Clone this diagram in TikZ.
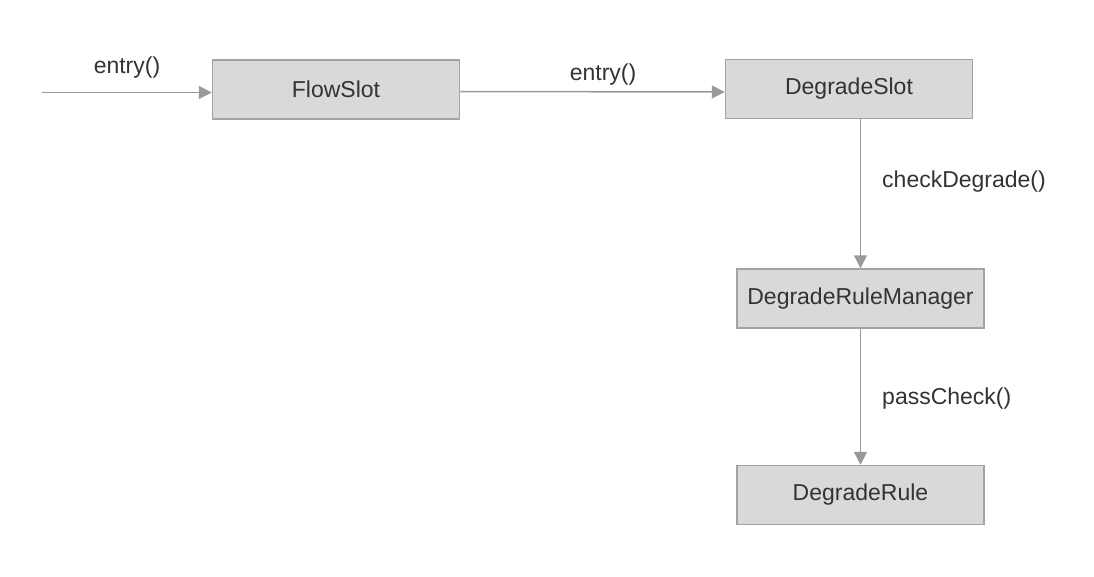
\documentclass[tikz,border=0pt]{standalone}
\usepackage{fontspec}
\setmainfont{Liberation Sans}
\usepackage{xcolor}
\usetikzlibrary{arrows.meta, positioning}
\definecolor{boxfill}{HTML}{D9D9D9}
\definecolor{boxline}{HTML}{A3A3A3}
\definecolor{wire}{HTML}{999999}
\definecolor{ink}{HTML}{333333}

\begin{document}
\begin{tikzpicture}[
  x=1pt, y=-1pt,
  slot/.style={draw=boxline, line width=1.5pt, fill=boxfill, minimum width=247pt, minimum height=59pt, inner sep=0pt, font=\fontsize{23}{27}\selectfont, text=ink},
  call/.style={font=\fontsize{23}{27}\selectfont, text=ink, inner sep=0pt},
  wire/.style={draw=wire, line width=1.5pt, -{Triangle[length=13pt, width=13pt]}}
]
\useasboundingbox (0,0) rectangle (1094,576);

\node[slot] (flow) at (336,89.5) {FlowSlot};
\node[slot] (deg) at (849,89) {DegradeSlot};
\node[slot] (mgr) at (860.5,298.5) {DegradeRuleManager};
\node[slot] (rule) at (860.5,495) {DegradeRule};
\coordinate (in) at (42,92.5);

\draw[wire] (in) -- (in -| flow.west);
\draw[wire] ([yshift=-2pt]flow.east) -- ([yshift=-3pt]deg.west);
\draw[wire] (mgr.north |- deg.south) -- (mgr.north);
\draw[wire] (mgr.south) -- (rule.north);

\node[call] (lbl1) at (127,68) {entry()};
\node[call] (lbl2) at (603,75) {entry()};
\node[call, anchor=west] (lbl3) at (882,182) {checkDegrade()};
\node[call, anchor=west] (lbl4) at (882,399) {passCheck()};
\end{tikzpicture}
\end{document}
